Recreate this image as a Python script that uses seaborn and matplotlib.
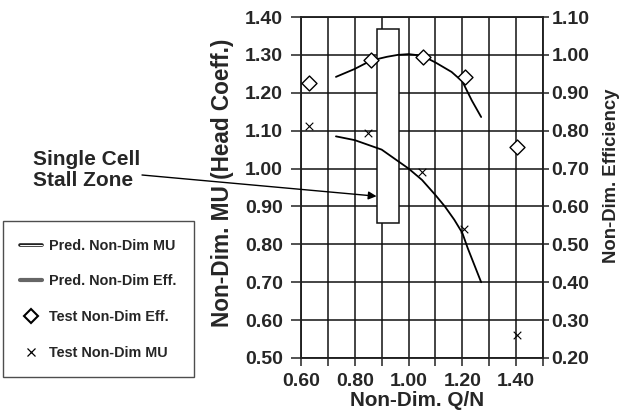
import numpy as np
import pandas as pd
import matplotlib
matplotlib.use("Agg")
import matplotlib.pyplot as plt
import matplotlib.patches as patches
import matplotlib.patheffects as pe
from matplotlib.lines import Line2D
from matplotlib.ticker import MultipleLocator, FuncFormatter
import seaborn as sns

# Predicted curves
pred_mu_q = [0.73, 0.80, 0.90, 0.96, 1.00, 1.05, 1.10, 1.135, 1.17, 1.20, 1.22, 1.27]
pred_mu = [1.085, 1.075, 1.05, 1.02, 1.00, 0.97, 0.93, 0.90, 0.865, 0.83, 0.79, 0.70]

pred_eff_q = [0.73, 0.80, 0.86, 0.92, 0.96, 1.00, 1.05, 1.10, 1.16, 1.20, 1.235, 1.27]
pred_eff = [0.942, 0.963, 0.985, 0.995, 1.000, 1.002, 0.998, 0.980, 0.955, 0.930, 0.880, 0.836]

# Test points
test_eff_q = [0.63, 0.86, 1.055, 1.21, 1.405]
test_eff = [0.925, 0.987, 0.995, 0.942, 0.757]

test_mu_q = [0.63, 0.85, 1.05, 1.205, 1.405]
test_mu = [1.112, 1.094, 0.99, 0.84, 0.561]

W, H = 624, 413

sns.set_theme(style="white")
plt.rcParams['font.family'] = ['Liberation Sans', 'DejaVu Sans']
plt.rcParams['font.weight'] = 'bold'

fig = plt.figure(figsize=(6.24, 4.13), dpi=100)
ax = fig.add_axes([301 / W, 1 - 358 / H, 242 / W, 341 / H])
ax2 = ax.twinx()

ax.set_xlim(0.6, 1.5)
ax.set_ylim(0.5, 1.4)
ax2.set_ylim(0.2, 1.1)
ax.xaxis.set_major_locator(MultipleLocator(0.1))
ax.yaxis.set_major_locator(MultipleLocator(0.1))
ax2.yaxis.set_major_locator(MultipleLocator(0.1))
ax.xaxis.set_major_formatter(FuncFormatter(
    lambda v, p: f"{v:.2f}" if round(v * 10) % 2 == 0 and v < 1.45 else ""))
ax.yaxis.set_major_formatter(FuncFormatter(lambda v, p: f"{v:.2f}"))
ax2.yaxis.set_major_formatter(FuncFormatter(lambda v, p: f"{v:.2f}"))
ax.grid(True, color="#111111", lw=1.1)
ax.set_axisbelow(True)

for a in (ax, ax2):
    for s in a.spines.values():
        s.set_color("#222222")
        s.set_linewidth(1.1)

ax.tick_params(axis="x", direction="out", length=6, width=1.1, color="#222222",
               labelsize=14, pad=5, bottom=True)
ax.tick_params(axis="y", direction="out", length=7, width=1.1, color="#222222",
               labelsize=14, pad=6, left=True)
ax2.tick_params(axis="y", direction="out", length=4, width=1.1, color="#222222",
                labelsize=14, pad=2, right=True)

# stall zone box
rect = patches.Rectangle((0.881, 0.857), 0.082, 0.511, facecolor="white",
                         edgecolor="#111111", lw=1.1, zorder=1.5)
ax.add_patch(rect)
ax.set_zorder(ax2.get_zorder() + 1)
ax.patch.set_visible(False)

# predicted curves
sns.lineplot(x=pred_mu_q, y=pred_mu, ax=ax, color="black", lw=1.3,
             sort=False, estimator=None, zorder=3)
sns.lineplot(x=pred_eff_q, y=[e + 0.3 for e in pred_eff], ax=ax,
             color="black", lw=1.3, sort=False, estimator=None, zorder=3)

# test data (efficiency drawn on the left scale, shifted by the 0.3 offset of the twin axis)
sns.scatterplot(x=test_eff_q, y=[e + 0.3 for e in test_eff], ax=ax, marker="D",
                s=58, facecolor="white", edgecolor="black", linewidth=1.0, zorder=4)
sns.scatterplot(x=test_mu_q, y=test_mu, ax=ax, marker="x", s=30,
                color="black", linewidth=0.8, zorder=4)

ax.set_xlabel("")
ax.set_ylabel("")
fig.text(417 / W, 1 - 401 / H, "Non-Dim. Q/N", fontsize=14.9, fontweight="bold",
         ha="center", va="center")
fig.text(222 / W, 1 - 183 / H, "Non-Dim. MU (Head Coeff.)", fontsize=16.3,
         fontweight="bold", rotation=90, ha="center", va="center")
fig.text(612 / W, 1 - 176 / H, "Non-Dim. Efficiency", fontsize=13.3,
         fontweight="bold", rotation=90, ha="center", va="center")

# annotation
fig.text(33 / W, 1 - 150 / H, "Single Cell\nStall Zone", fontsize=15,
         fontweight="bold", ha="left", va="top", linespacing=1.15)
ax.annotate("", xy=(0.881, 0.927), xycoords="data",
            xytext=(142 / W, 1 - 175 / H), textcoords="figure fraction",
            arrowprops=dict(arrowstyle="-|>", color="black", lw=1.0,
                            mutation_scale=12, shrinkA=0, shrinkB=0))

handles = [
    Line2D([], [], color="white", lw=0.7,
           path_effects=[pe.Stroke(linewidth=2.6, foreground="#222222"), pe.Normal()]),
    Line2D([], [], color="#666666", lw=3.0),
    Line2D([], [], marker="D", ls="none", markersize=7, markerfacecolor="white",
           markeredgecolor="black", markeredgewidth=1.5),
    Line2D([], [], marker="x", ls="none", markersize=6, color="black",
           markeredgewidth=0.9),
]
labels = ["Pred. Non-Dim MU", "Pred. Non-Dim Eff.", "Test Non-Dim Eff.",
          "Test Non-Dim MU"]
leg = fig.legend(handles, labels, loc="lower left",
                 bbox_to_anchor=(3 / W, 1 - 377 / H), borderaxespad=0,
                 frameon=True, fancybox=False, shadow=False, labelspacing=1.5,
                 handlelength=1.5, handletextpad=0.5, borderpad=1.2,
                 prop={"weight": "bold", "size": 10.4})
leg.get_frame().set_edgecolor("#222222")
leg.get_frame().set_linewidth(1.0)

fig.savefig("out.png", dpi=100)
